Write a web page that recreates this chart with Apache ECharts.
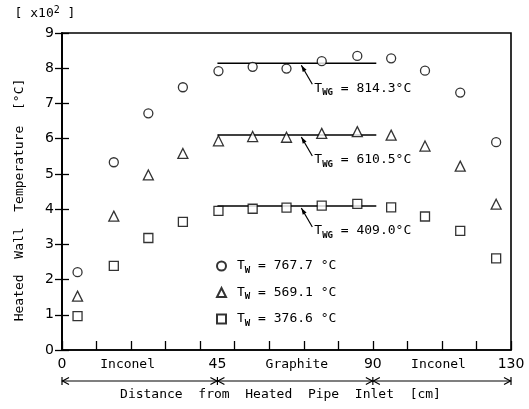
<!DOCTYPE html>
<html><head><meta charset="utf-8">
<script src="https://cdn.jsdelivr.net/npm/echarts@6/dist/echarts.min.js"></script>
<style>html,body{margin:0;padding:0;background:#fff}#c{width:529px;height:409px}</style>
</head><body><div id="c"></div>
<script>
const xPositions = [4.5, 15, 25, 35, 45.3, 55.2, 65, 75.2, 85.5, 95.3, 105.1, 115.3, 125.7];
const tempHigh = [2.21, 5.33, 6.72, 7.46, 7.92, 8.04, 7.99, 8.20, 8.35, 8.28, 7.93, 7.31, 5.90];
const tempMid  = [1.53, 3.80, 4.97, 5.58, 5.94, 6.06, 6.04, 6.15, 6.20, 6.10, 5.79, 5.22, 4.14];
const tempLow  = [0.96, 2.39, 3.18, 3.64, 3.95, 4.01, 4.04, 4.10, 4.15, 4.05, 3.79, 3.38, 2.60];
const seriesNames = ['767.7', '569.1', '376.6'];
const seriesSymbols = ['circle', 'triangle', 'rect'];
const twgValues = [8.143, 6.105, 4.090];
const twgLabels = ['814.3', '610.5', '409.0'];
const twgRange = [45, 91];
const twgArrowX = 69;
const boundaryTicks = [0, 45, 90, 130];
const materials = ['Inconel', 'Graphite', 'Inconel'];
const materialLabelX = [19, 68, 109];
const yName = 'Heated  Wall  Temperature  [°C]';
const xName = 'Distance  from  Heated  Pipe  Inlet  [cm]';
const yUnitParts = ['[ x10', '2', ' ]'];

const MONO = 'DejaVu Sans Mono';
const SANS = 'DejaVu Sans';
const subRich = { sub: { fontSize: 9, lineHeight: 9, verticalAlign: 'bottom', fontFamily: MONO, fontWeight: 'bold', color: '#000' } };

const chart = echarts.init(document.getElementById('c'), null, { renderer: 'canvas' });
const allTemps = [tempHigh, tempMid, tempLow];

const series = allTemps.map((arr, i) => ({
  name: seriesNames[i],
  type: 'scatter',
  symbol: seriesSymbols[i],
  symbolSize: seriesSymbols[i] === 'triangle' ? 10 : 9,
  itemStyle: { color: '#fff', borderColor: '#000', borderWidth: 1.3 },
  data: xPositions.map((x, j) => [x, arr[j]]),
  z: 5
}));
twgValues.forEach((v, i) => {
  series.push({
    name: 'twg' + i, type: 'line', showSymbol: false, silent: true,
    lineStyle: { color: '#000', width: 1.6 },
    data: twgRange.map(x => [x, v]), z: 3
  });
});

chart.setOption({
  animation: false,
  backgroundColor: '#fff',
  grid: { left: 62, right: 18, top: 33, bottom: 59, show: true, borderColor: '#000', borderWidth: 1.6 },
  xAxis: [{
    type: 'value', min: 0, max: 130, interval: 10,
    axisLine: { lineStyle: { color: '#000', width: 1.6 } },
    axisTick: { inside: true, length: 9, lineStyle: { color: '#000', width: 1.3 } },
    splitLine: { show: false },
    axisLabel: { margin: 7, color: '#000', fontFamily: SANS, fontSize: 14,
      formatter: v => boundaryTicks.indexOf(v) >= 0 ? String(v) : '' },
    name: xName, nameLocation: 'middle', nameGap: 38,
    nameTextStyle: { color: '#000', fontFamily: MONO, fontSize: 13, padding: [0, 12, 0, 0] }
  }, {
    type: 'value', min: 0, max: 130, interval: 45, position: 'bottom', gridIndex: 0,
    axisLine: { show: false }, axisTick: { show: false }, splitLine: { show: false },
    axisLabel: { margin: 7, color: '#000', fontFamily: SANS, fontSize: 14, showMinLabel: false, showMaxLabel: false,
      formatter: v => (v === boundaryTicks[1] ? String(v) : '') }
  }],
  yAxis: [{
    type: 'value', min: 0, max: 9, interval: 1,
    axisLine: { show: true, lineStyle: { color: '#000', width: 1.6 } },
    axisTick: { show: true, inside: true, length: 7, lineStyle: { color: '#000', width: 1.3 } },
    splitLine: { show: false },
    axisLabel: { margin: 8, color: '#000', fontFamily: SANS, fontSize: 14 },
    name: yName, nameLocation: 'middle', nameGap: 36, nameRotate: 90,
    nameTextStyle: { color: '#000', fontFamily: MONO, fontSize: 13, padding: [0, 17, 0, 0] }
  }, {
    type: 'value', min: 0, max: 9, interval: 1, position: 'right',
    axisLine: { show: true, lineStyle: { color: '#000', width: 1.6 } },
    axisTick: { show: true, inside: true, length: 7, lineStyle: { color: '#000', width: 1.3 } },
    axisLabel: { show: false }, splitLine: { show: false }
  }],
  legend: {
    data: seriesNames, orient: 'vertical', left: 211, top: 252,
    itemWidth: 9, itemHeight: 9, itemGap: 8.5, selectedMode: false,
    formatter: n => 'T{sub|W} = ' + n + ' °C',
    textStyle: { color: '#000', fontFamily: MONO, fontSize: 13, lineHeight: 18, padding: [0, 0, 0, 6], rich: subRich }
  },
  series: series
});

function px(x, y) { return chart.convertToPixel({ gridIndex: 0 }, [x, y]); }
const g = [];
const black = { stroke: '#000', lineWidth: 1.2 };

// T_WG annotations
twgValues.forEach((v, i) => {
  const p = px(twgArrowX, v);
  const tip = [p[0] + 1, p[1] + 2];
  const tail = [p[0] + 12, p[1] + 21];
  g.push({ type: 'line', shape: { x1: tail[0], y1: tail[1], x2: tip[0], y2: tip[1] }, style: black });
  const ang = Math.atan2(tip[1] - tail[1], tip[0] - tail[0]);
  const L = 7, W = 0.32;
  g.push({ type: 'polygon', shape: { points: [
    tip,
    [tip[0] - L * Math.cos(ang - W), tip[1] - L * Math.sin(ang - W)],
    [tip[0] - L * Math.cos(ang + W), tip[1] - L * Math.sin(ang + W)]
  ] }, style: { fill: '#000' } });
  g.push({ type: 'text', x: p[0] + 14, y: p[1] + 25, style: {
    text: 'T{sub|WG} = ' + twgLabels[i] + '°C', fill: '#000', fontFamily: MONO, fontSize: 13,
    lineHeight: 18, verticalAlign: 'middle', align: 'left', rich: subRich } });
});

// material labels
const axisY = px(0, 0)[1];
materials.forEach((m, i) => {
  const p = px(materialLabelX[i], 0);
  g.push({ type: 'text', x: p[0], y: axisY + 15, style: { text: m, fill: '#000', fontFamily: MONO, fontSize: 13, align: 'center', verticalAlign: 'middle' } });
});

// dimension arrows
const ay = axisY + 31;
const bx = boundaryTicks.map(b => px(b, 0)[0]);
g.push({ type: 'line', shape: { x1: bx[0], y1: ay, x2: bx[bx.length - 1], y2: ay }, style: black });
bx.forEach((b, i) => {
  g.push({ type: 'line', shape: { x1: b, y1: ay - 4, x2: b, y2: ay + 4 }, style: black });
  if (i < bx.length - 1) g.push({ type: 'polyline', shape: { points: [[b + 7, ay - 3.5], [b + 0.5, ay], [b + 7, ay + 3.5]] }, style: black });
  if (i > 0) g.push({ type: 'polyline', shape: { points: [[b - 7, ay - 3.5], [b - 0.5, ay], [b - 7, ay + 3.5]] }, style: black });
});

// unit label
const top9 = px(0, 9);
g.push({ type: 'text', x: top9[0] - 17, y: top9[1] - 19, style: {
  text: yUnitParts[0] + '{sup|' + yUnitParts[1] + '}' + yUnitParts[2], fill: '#000', fontFamily: MONO, fontSize: 13,
  lineHeight: 18, align: 'center', verticalAlign: 'middle',
  rich: { sup: { fontSize: 10, lineHeight: 10, verticalAlign: 'top', fontFamily: MONO, color: '#000' } } } });

chart.setOption({ graphic: g });
</script></body></html>
